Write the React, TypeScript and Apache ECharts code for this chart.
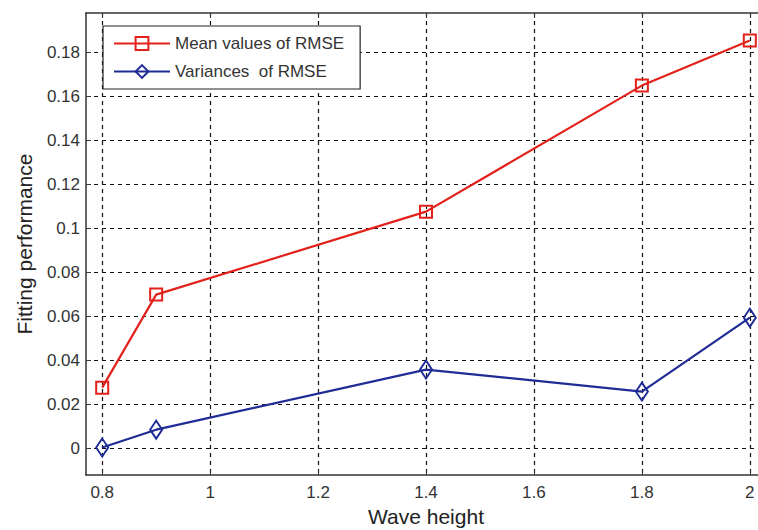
import React, { useEffect, useRef } from "react";
import * as echarts from "echarts";

const waveHeights = [0.8, 0.9, 1.4, 1.8, 2.0];
const meanRMSE = [0.0277, 0.070, 0.1077, 0.165, 0.1855];
const varRMSE = [0.0005, 0.0086, 0.0359, 0.0259, 0.0595];
const xTicks = [0.8, 1, 1.2, 1.4, 1.6, 1.8, 2];
const yTicks = [0, 0.02, 0.04, 0.06, 0.08, 0.1, 0.12, 0.14, 0.16, 0.18];

const RED = "#e3211b";
const BLUE = "#1f2c96";
const FONT = "Liberation Sans, Arial, sans-serif";

export default function App() {
  const ref = useRef<HTMLDivElement>(null);
  useEffect(() => {
    if (!ref.current) return;
    const chart = echarts.init(ref.current, undefined, { renderer: "svg" });
    const gridLine = { show: true, lineStyle: { color: "#111", type: [4, 4] as any, width: 1.2 } };
    const xBase = {
      type: "value" as const,
      min: 0.77,
      max: 2.03,
      axisLine: { show: true, onZero: false, lineStyle: { color: "#333", width: 1.5 } },
    };
    const yBase = {
      type: "value" as const,
      min: -0.012,
      max: 0.198,
      axisLine: { show: true, onZero: false, lineStyle: { color: "#333", width: 1.5 } },
    };
    chart.setOption({
      animation: false,
      backgroundColor: "#fff",
      grid: { left: 86, top: 13, right: 4, bottom: 55, containLabel: false, outerBoundsMode: "none" },
      legend: {
        left: 103,
        top: 26,
        orient: "vertical",
        backgroundColor: "#fff",
        borderColor: "#222",
        borderWidth: 1.2,
        borderRadius: 0,
        padding: [9, 16, 9, 10],
        itemGap: 11,
        itemWidth: 56,
        itemHeight: 16,
        textStyle: { fontFamily: FONT, fontSize: 17, color: "#333" },
        data: ["Mean values of RMSE", "Variances  of RMSE"],
      },
      xAxis: [
        {
          ...xBase,
          position: "bottom",
          name: "Wave height",
          nameLocation: "middle",
          nameGap: 29,
          nameTextStyle: { fontFamily: FONT, fontSize: 21, color: "#222" },
          axisTick: { show: true, inside: true, length: 5, customValues: xTicks, lineStyle: { color: "#333" } },
          axisLabel: {
            customValues: xTicks,
            margin: 9,
            fontFamily: FONT,
            fontSize: 17,
            color: "#333",
            formatter: (v: number) => String(Math.round(v * 10) / 10),
          },
          splitLine: { ...gridLine, customValues: xTicks },
        },
        {
          ...xBase,
          position: "top",
          axisTick: { show: true, inside: true, length: 5, customValues: xTicks, lineStyle: { color: "#333" } },
          axisLabel: { show: false },
          splitLine: { show: false },
        },
      ],
      yAxis: [
        {
          ...yBase,
          position: "left",
          name: "Fitting performance",
          nameLocation: "middle",
          nameGap: 51,
          nameTextStyle: { fontFamily: FONT, fontSize: 21, color: "#222" },
          axisTick: { show: true, inside: true, length: 5, customValues: yTicks, lineStyle: { color: "#333" } },
          axisLabel: {
            customValues: yTicks,
            margin: 6,
            fontFamily: FONT,
            fontSize: 17,
            color: "#333",
            formatter: (v: number) => String(Math.round(v * 100) / 100),
          },
          splitLine: { ...gridLine, customValues: yTicks },
        },
        {
          ...yBase,
          position: "right",
          axisTick: { show: true, inside: true, length: 5, customValues: yTicks, lineStyle: { color: "#333" } },
          axisLabel: { show: false },
          splitLine: { show: false },
        },
      ],
      series: [
        {
          name: "Mean values of RMSE",
          type: "line",
          xAxisIndex: 0,
          yAxisIndex: 0,
          data: waveHeights.map((x, i) => [x, meanRMSE[i]]),
          symbol: "rect",
          symbolSize: 12,
          lineStyle: { color: RED, width: 2.2 },
          itemStyle: { color: "rgba(255,255,255,0)", borderColor: RED, borderWidth: 2 },
          z: 3,
        },
        {
          name: "Variances  of RMSE",
          type: "line",
          xAxisIndex: 0,
          yAxisIndex: 0,
          data: waveHeights.map((x, i) => [x, varRMSE[i]]),
          symbol: "diamond",
          symbolSize: [12, 18],
          lineStyle: { color: BLUE, width: 2.2 },
          itemStyle: { color: "rgba(255,255,255,0)", borderColor: BLUE, borderWidth: 2 },
          z: 3,
        },
      ],
    });
    return () => chart.dispose();
  }, []);
  return (
    <div
      ref={ref}
      style={{ position: "fixed", left: 0, top: 0, width: 770, height: 530, background: "#fff" }}
    />
  );
}
